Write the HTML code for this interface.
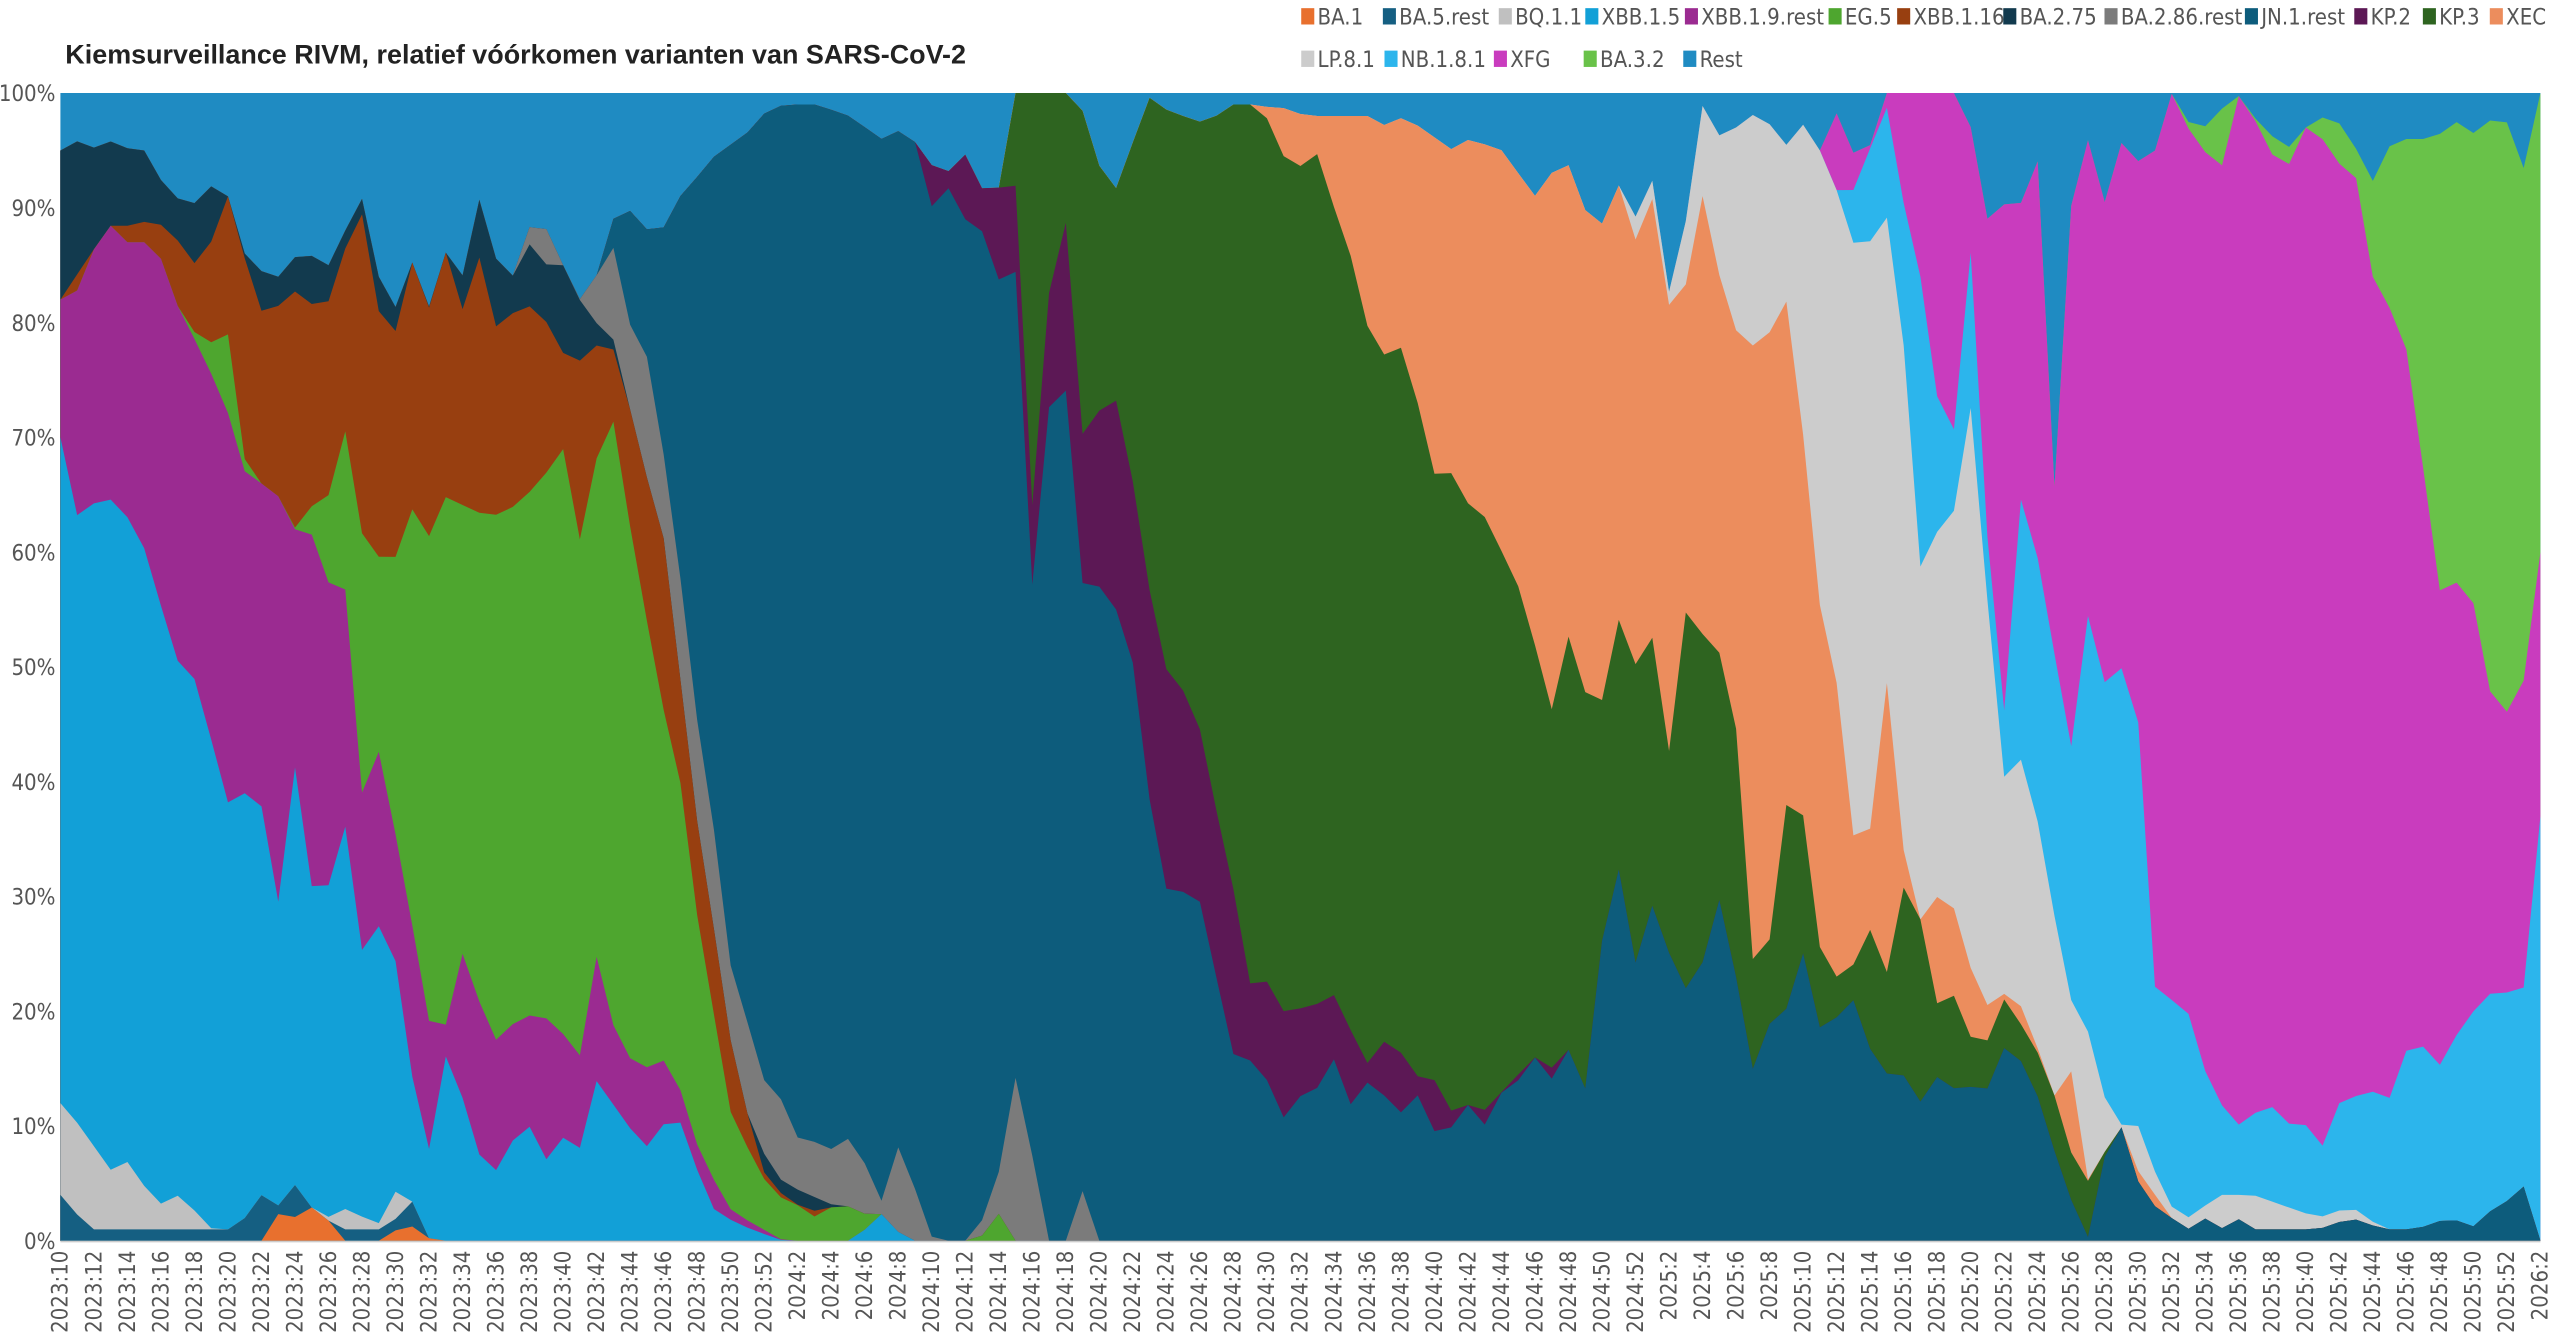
<!DOCTYPE html>
<html><head><meta charset="utf-8">
<style>
html,body{margin:0;padding:0;background:#fff;}
svg{display:block;}
text{font-family:"DejaVu Sans Condensed","Liberation Sans",sans-serif;}
</style></head>
<body>
<svg id="c" width="2560" height="1335" viewBox="0 0 1568 817.7" preserveAspectRatio="none" xmlns="http://www.w3.org/2000/svg">
<rect x="0" y="0" width="1568" height="818" fill="#fff"/>
<text x="40" y="39" font-family="Liberation Sans, sans-serif" font-weight="bold" font-size="16.5" fill="#222" style="font-family:'Liberation Sans',sans-serif">Kiemsurveillance RIVM, relatief vóórkomen varianten van SARS-CoV-2</text>
<g id="plot"></g>
<g id="axes"></g>
<g id="legend"></g>
</svg>
<script>
const X0=37,X1=1556,Y0=760,Y100=57;
const yp=p=>Y0-(Y0-Y100)*p/100;
const S=[
["BA.1","#e8702e",[[37,0],[160,0],[165,0],[172,3],[180,2],[190,3],[200,2],[210,0],[240,0],[245,2],[255,1],[265,0]]],
["BA.5.rest","#155f82",[[37,4],[55,1],[100,1],[140,1],[150,2],[160,4],[170,3],[180,5],[190,3],[200,1],[240,1],[250,5],[258,0]]],
["BQ.1.1","#c0c0c0",[[37,12],[55,9],[65,6],[80,7],[95,3],[110,4],[130,1],[165,1],[200,2],[215,3],[230,1],[245,5],[260,0]]],
["XBB.1.5","#12a0d7",[[37,70],[45,63],[65,65],[85,62],[95,57],[110,50],[115,51],[125,46],[140,38],[150,39],[160,38],[170,29],[180,42],[190,31],[200,30],[210,38],[220,25],[235,28],[245,23],[258,8],[265,8],[275,18],[290,8],[305,6],[315,9],[325,10],[335,7],[345,9],[355,8],[365,14],[375,12],[385,10],[395,8],[405,10],[415,11],[425,7],[435,3],[445,2],[460,1],[480,0],[520,0],[530,1],[545,3],[552,0]]],
["XBB.1.9.rest","#9b2b91",[[37,82],[45,82],[65,89],[75,87],[85,87],[95,87],[110,81],[125,77],[140,72],[150,67],[160,66],[170,65],[180,62],[190,62],[200,57],[210,60],[220,38],[230,44],[240,37],[250,30],[260,20],[270,17],[285,26],[300,17],[315,19],[330,20],[345,18],[355,16],[365,25],[375,19],[385,16],[395,15],[405,16],[415,14],[425,9],[435,6],[445,3],[455,2],[480,0]]],
["EG.5","#4ea62f",[[37,82],[110,81],[125,78],[140,79],[150,68],[160,66],[170,64],[180,62],[190,64],[200,64],[210,72],[220,62],[230,60],[240,58],[250,65],[260,60],[270,65],[285,64],[300,63],[315,64],[330,66],[345,69],[355,61],[365,68],[375,72],[385,63],[395,55],[405,47],[415,42],[425,30],[435,22],[445,12],[455,9],[465,6],[475,4],[490,3],[500,2],[510,3],[520,3],[535,2],[545,1],[560,0],[600,0],[610,3],[618,0]]],
["XBB.1.16","#983f10",[[37,82],[65,88],[95,89],[110,87],[125,84],[135,91],[145,91],[155,80],[165,82],[175,81],[185,84],[195,80],[205,83],[220,91],[230,82],[240,77],[250,87],[260,80],[275,87],[285,80],[293,86],[305,79],[320,82],[335,80],[350,76],[365,78],[375,78],[385,73],[395,67],[405,63],[410,57],[420,45],[430,33],[440,25],[450,15],[460,10],[470,5],[490,3],[560,0]]],
["BA.2.75","#123a4e",[[37,95],[50,96],[60,95],[70,96],[80,95],[90,95],[100,92],[115,90],[125,91],[135,93],[145,87],[155,85],[165,84],[175,84],[185,87],[195,85],[205,85],[220,92],[230,85],[240,80],[250,86],[260,80],[270,85],[285,84],[293,91],[305,85],[315,84],[325,87],[335,85],[345,85],[355,82],[365,80],[375,79],[385,72],[395,65],[405,52],[420,40],[430,30],[440,20],[450,12],[460,10],[470,7],[480,5],[560,0]]],
["BA.2.86.rest","#7b7b7b",[[300,0],[320,87],[330,90],[340,86],[355,82],[365,84],[375,87],[385,80],[395,78],[405,70],[415,60],[425,47],[435,39],[445,25],[455,21],[465,14],[475,14],[485,9],[495,9],[505,8],[515,8],[525,10],[535,3],[545,4],[555,12],[563,1],[575,0],[600,0],[605,6],[613,6],[620,15],[630,11],[637,0],[655,0],[662,5],[670,0]]],
["JN.1.rest","#0d5c7c",[[370,0],[375,89],[390,90],[400,87],[410,89],[420,92],[430,93],[440,95],[455,96],[465,98],[480,99],[500,99],[520,98],[540,96],[555,97],[560,96],[570,90],[580,92],[590,89],[600,89],[610,82],[620,92],[628,62],[636,53],[645,80],[652,76],[660,57],[670,58],[680,55],[690,55],[700,43],[710,32],[720,29],[730,32],[740,27],[750,19],[760,14],[770,17],[780,12],[790,10],[800,14],[810,13],[820,17],[830,10],[840,15],[850,12],[860,11],[870,13],[880,9],[890,10],[900,12],[910,10],[920,13],[930,14],[940,16],[950,14],[960,17],[970,12],[980,25],[990,34],[1000,23],[1010,30],[1020,26],[1030,22],[1040,22],[1050,30],[1060,29],[1070,11],[1080,22],[1090,14],[1100,29],[1110,20],[1120,17],[1130,22],[1140,20],[1150,14],[1160,15],[1170,14],[1180,11],[1190,16],[1200,12],[1210,14],[1220,13],[1230,18],[1240,15],[1250,12],[1260,7],[1270,3],[1280,0],[1290,8],[1300,10],[1310,5],[1320,3],[1330,2],[1340,1],[1350,2],[1360,1],[1370,2],[1380,1],[1400,1],[1420,1],[1440,2],[1460,1],[1480,1],[1500,2],[1520,1],[1530,4],[1540,3],[1550,6],[1556,0]]],
["KP.2","#5c1855",[[560,0],[565,96],[575,92],[590,95],[600,92],[610,90],[620,100],[630,60],[640,78],[650,96],[660,70],[670,71],[680,75],[690,70],[700,60],[710,52],[720,47],[730,49],[740,40],[750,35],[760,27],[770,19],[780,25],[790,17],[800,22],[810,20],[820,22],[830,17],[840,15],[850,18],[860,16],[870,14],[880,14],[890,11],[900,10],[920,13],[940,16],[950,15],[960,17],[970,0]]],
["KP.3","#2e6420",[[618,0],[620,100],[660,100],[670,95],[680,91],[690,93],[700,100],[710,99],[720,98],[730,98],[740,97],[750,99],[760,99],[770,99],[780,97],[790,93],[800,94],[810,95],[820,88],[830,85],[840,78],[850,77],[860,78],[870,72],[880,66],[890,67],[900,64],[910,63],[920,60],[930,57],[940,52],[950,46],[960,53],[970,48],[980,46],[990,55],[1000,49],[1010,56],[1020,39],[1030,55],[1040,54],[1050,50],[1060,54],[1070,26],[1080,22],[1090,33],[1100,45],[1110,27],[1120,24],[1130,22],[1140,26],[1150,28],[1160,20],[1170,38],[1180,22],[1190,20],[1200,22],[1210,16],[1220,18],[1230,22],[1240,18],[1250,16],[1260,12],[1270,7],[1280,5],[1290,8],[1300,0]]],
["XEC","#ec8d5d",[[755,0],[760,98],[780,99],[800,98],[840,98],[850,97],[860,98],[870,97],[880,96],[890,95],[900,96],[920,95],[940,91],[950,93],[960,94],[970,90],[980,88],[990,93],[1000,86],[1010,93],[1020,82],[1030,80],[1040,93],[1050,86],[1060,80],[1070,78],[1080,78],[1090,81],[1100,83],[1110,54],[1120,57],[1130,40],[1140,31],[1150,40],[1160,55],[1170,20],[1180,28],[1190,31],[1200,28],[1210,22],[1220,20],[1230,22],[1240,20],[1250,16],[1260,7],[1270,16],[1280,4],[1290,6],[1300,8],[1320,4],[1330,1],[1340,0]]],
["LP.8.1","#cccccc",[[995,0],[1000,88],[1010,95],[1020,82],[1030,85],[1040,100],[1050,96],[1060,97],[1070,97],[1080,100],[1090,93],[1100,99],[1110,95],[1120,95],[1130,88],[1140,86],[1150,88],[1160,90],[1170,70],[1180,52],[1190,67],[1200,62],[1210,77],[1220,48],[1230,38],[1240,43],[1250,35],[1260,27],[1270,20],[1280,18],[1290,12],[1300,10],[1310,10],[1320,6],[1330,3],[1340,2],[1360,4],[1380,4],[1400,3],[1420,2],[1440,3],[1460,1],[1470,0]]],
["NB.1.8.1","#2cb5ec",[[1125,0],[1130,90],[1140,93],[1150,97],[1160,100],[1170,84],[1180,84],[1190,68],[1200,72],[1210,92],[1220,50],[1230,45],[1240,70],[1250,57],[1260,50],[1270,42],[1280,56],[1290,48],[1300,50],[1310,45],[1320,22],[1330,21],[1340,20],[1350,15],[1360,12],[1370,10],[1380,11],[1390,12],[1400,10],[1410,11],[1420,7],[1430,12],[1440,12],[1450,14],[1460,11],[1470,15],[1480,19],[1490,14],[1500,17],[1510,19],[1520,21],[1530,22],[1545,21],[1556,37]]],
["XFG","#c93cbe",[[1105,0],[1110,93],[1130,100],[1140,90],[1150,100],[1200,100],[1205,95],[1210,100],[1220,85],[1230,92],[1240,90],[1250,95],[1260,60],[1270,95],[1280,96],[1290,90],[1300,96],[1310,94],[1320,95],[1330,100],[1340,97],[1350,95],[1360,93],[1370,100],[1380,98],[1390,95],[1400,93],[1410,97],[1420,97],[1430,93],[1440,96],[1450,85],[1460,82],[1470,80],[1480,74],[1490,58],[1500,55],[1510,60],[1520,51],[1530,45],[1545,48],[1556,60]]],
["BA.3.2","#69c249",[[1148,0],[1150,95],[1160,100],[1165,0],[1325,0],[1330,98],[1350,97],[1370,100],[1380,98],[1400,95],[1420,98],[1440,97],[1450,91],[1460,95],[1470,96],[1490,96],[1500,97],[1510,98],[1520,95],[1530,100],[1545,93],[1556,100]]],
["Rest","#1f8bc2",[]]
];
function interp(pts,x){
  if(!pts.length||x<pts[0][0]||x>pts[pts.length-1][0])return null;
  for(let i=0;i<pts.length-1;i++){const a=pts[i],b=pts[i+1];
    if(x>=a[0]&&x<=b[0]){return b[0]===a[0]?a[1]:a[1]+(b[1]-a[1])*(x-a[0])/(b[0]-a[0]);}}
  return pts[pts.length-1][1];
}
const N=149, xs=[];for(let i=0;i<N;i++)xs.push(X0+i*(X1-X0)/(N-1));
let prev=xs.map(()=>0);const tops=[];
S.forEach(s=>{
  const t=xs.map((x,i)=>{if(s[0]==="Rest")return 100;const v=interp(s[2],x);return v===null?prev[i]:Math.min(100,Math.max(prev[i],v));});
  tops.push(t);prev=t;
});
const ns="http://www.w3.org/2000/svg";
const plot=document.getElementById("plot");
for(let k=S.length-1;k>=0;k--){
  let d="M"+X0+","+Y0;
  xs.forEach((x,i)=>{d+=" L"+x.toFixed(2)+","+yp(tops[k][i]).toFixed(2);});
  d+=" L"+X1+","+Y0+" Z";
  const p=document.createElementNS(ns,"path");p.setAttribute("d",d);p.setAttribute("fill",S[k][1]);plot.appendChild(p);
}
const ax=document.getElementById("axes");
function T(x,y,s,attrs){const t=document.createElementNS(ns,"text");t.setAttribute("x",x);t.setAttribute("y",y);for(const k in attrs)t.setAttribute(k,attrs[k]);t.textContent=s;ax.appendChild(t);return t;}
const line=document.createElementNS(ns,"line");line.setAttribute("x1",X0);line.setAttribute("x2",X1);line.setAttribute("y1",Y0+0.5);line.setAttribute("y2",Y0+0.5);line.setAttribute("stroke","#ccc");ax.appendChild(line);
for(let p=0;p<=100;p+=10){T(34,yp(p)+5,p+"%",{"text-anchor":"end","font-size":"13.5","fill":"#555"});}
// week labels
const labs=[];for(let w=10;w<=52;w++)labs.push("2023:"+w);for(let w=1;w<=52;w++)labs.push("2024:"+w);for(let w=1;w<=52;w++)labs.push("2025:"+w);labs.push("2026:1");labs.push("2026:2");
labs.forEach((l,i)=>{if(i%2)return;const x=xs[i]+4.5;const t=T(x,Y0+6,l,{"text-anchor":"end","font-size":"13.5","fill":"#555","transform":"rotate(-90 "+x+" "+(Y0+6)+")"});});
const lg=document.getElementById("legend");
const L=[["BA.1",797,10],["BA.5.rest",847,10],["BQ.1.1",918,10],["XBB.1.5",971,10],["XBB.1.9.rest",1032,10],["EG.5",1120,10],["XBB.1.16",1162,10],["BA.2.75",1227,10],["BA.2.86.rest",1289,10],["JN.1.rest",1375,10],["KP.2",1442,10],["KP.3",1484,10],["XEC",1525,10],["LP.8.1",797,36],["NB.1.8.1",848,36],["XFG",915,36],["BA.3.2",970,36],["Rest",1031,36]];
L.forEach(([n,x,y])=>{const c=S.find(s=>s[0]===n)[1];
 const r=document.createElementNS(ns,"rect");r.setAttribute("x",x);r.setAttribute("y",y-5);r.setAttribute("width",8);r.setAttribute("height",10);r.setAttribute("fill",c);lg.appendChild(r);
 const t=document.createElementNS(ns,"text");t.setAttribute("x",x+10);t.setAttribute("y",y+5);t.setAttribute("font-size","13.5");t.setAttribute("fill","#555");t.textContent=n;lg.appendChild(t);});
</script>
</body></html>
